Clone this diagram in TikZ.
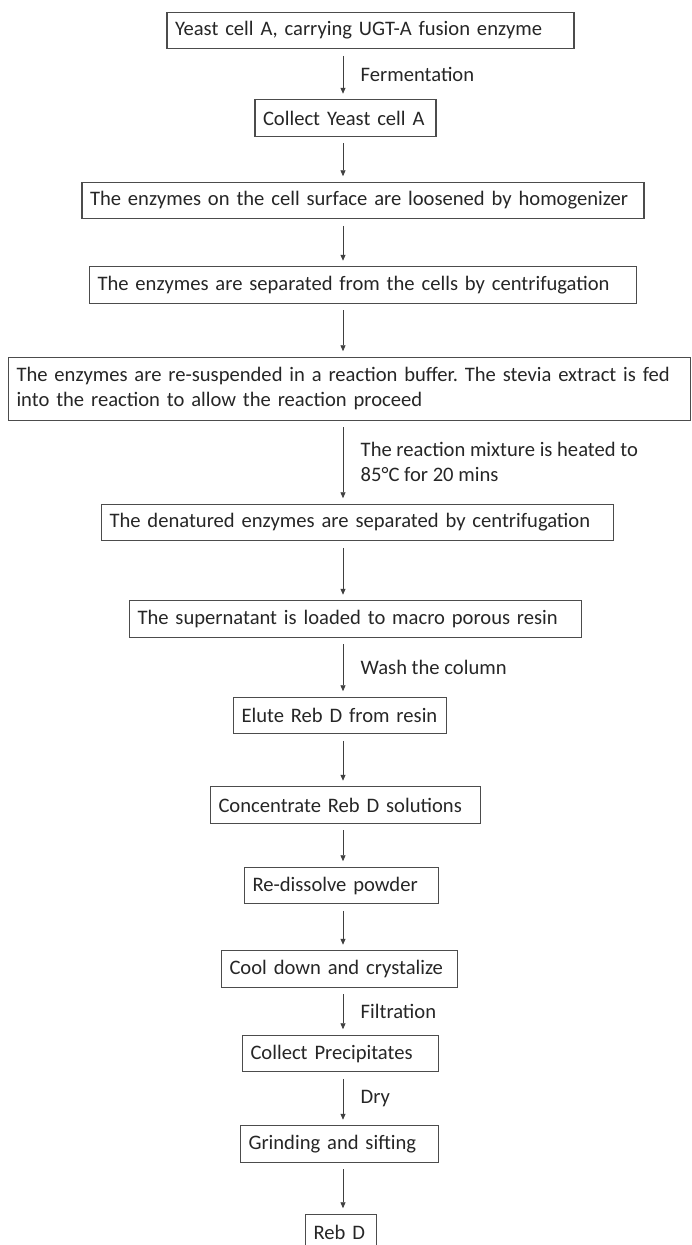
\documentclass[tikz,border=0pt]{standalone}
\usepackage{fontspec}
\setmainfont{Carlito}
\usetikzlibrary{arrows.meta, positioning}
\frenchspacing
\hyphenpenalty=10000
\exhyphenpenalty=10000

\begin{document}
\begin{tikzpicture}[
        x=1pt, y=-1pt,
        node distance=50pt,
        font=\fontsize{20.6}{25}\selectfont,
        % Styles
        box/.style={rectangle, draw=black!70, line width=1.1pt, align=left, inner xsep=8pt, inner ysep=8pt, outer sep=0pt, minimum height=36.5pt, text=black!85},
        line/.style={draw=black!75, line width=0.8pt, -{Triangle[length=6pt, width=5pt]}, shorten <=7pt, shorten >=6pt},
        note/.style={right, xshift=14pt, align=left, text=black!85}
    ]
        \useasboundingbox (0,0) rectangle (692,1245);
        \coordinate (axis) at (343,0);

        % Nodes
        \node [box, text width=391pt] (yeast) at (370.5,30.5) {Yeast cell A, carrying UGT-A fusion enzyme};
        \node [box, text width=165pt, below=51pt of yeast, xshift=-25pt] (collect) {Collect Yeast cell A};
        \node [box, text width=546pt, below=46pt of collect, xshift=17.5pt] (loosen) {The enzymes on the cell surface are loosened by homogenizer};
        \node [box, text width=531pt, below=48pt of loosen] (separate) {The enzymes are separated from the cells by centrifugation};
        \node [box, text width=666pt, minimum height=63pt, below=54pt of separate, xshift=-13.5pt] (resuspend) {The enzymes are re-suspended in a reaction buffer. The stevia extract is fed\\into the reaction to allow the reaction proceed};
        \node [box, text width=496pt, below=84pt of resuspend, xshift=8pt] (denature) {The denatured enzymes are separated by centrifugation};
        \node [box, text width=436pt, below=60pt of denature, xshift=-2pt] (resin) {The supernatant is loaded to macro porous resin};
        \node [box, text width=197pt, below=60pt of resin, xshift=-15.5pt] (elute) {Elute Reb D from resin};
        \node [box, text width=254pt, below=53pt of elute, xshift=5.5pt] (concentrate) {Concentrate Reb D solutions};
        \node [box, text width=178pt, below=44pt of concentrate, xshift=-4pt] (redissolve) {Re-dissolve powder};
        \node [box, text width=220pt, below=47pt of redissolve, xshift=-2pt] (crystal) {Cool down and crystalize};
        \node [box, text width=180pt, below=48pt of crystal, xshift=1pt] (precip) {Collect Precipitates};
        \node [box, text width=182pt, below=54pt of precip, xshift=-1pt] (grind) {Grinding and sifting};
        \node [box, text width=55pt, below=52pt of grind, xshift=1.5pt] (rebd) {Reb D};

        % Paths
        \path [line] (yeast.south -| axis) -- node [note] {Fermentation} (collect.north -| axis);
        \path [line] (collect.south -| axis) -- (loosen.north -| axis);
        \path [line] (loosen.south -| axis) -- (separate.north -| axis);
        \path [line] (separate.south -| axis) -- (resuspend.north -| axis);
        \path [line] (resuspend.south -| axis) -- node [note] {The reaction mixture is heated to\\85°C for 20 mins} (denature.north -| axis);
        \path [line] (denature.south -| axis) -- (resin.north -| axis);
        \path [line] (resin.south -| axis) -- node [note] {Wash the column} (elute.north -| axis);
        \path [line] (elute.south -| axis) -- (concentrate.north -| axis);
        \path [line] (concentrate.south -| axis) -- (redissolve.north -| axis);
        \path [line] (redissolve.south -| axis) -- (crystal.north -| axis);
        \path [line] (crystal.south -| axis) -- node [note] {Filtration} (precip.north -| axis);
        \path [line] (precip.south -| axis) -- node [note] {Dry} (grind.north -| axis);
        \path [line] (grind.south -| axis) -- (rebd.north -| axis);
    \end{tikzpicture}
\end{document}
